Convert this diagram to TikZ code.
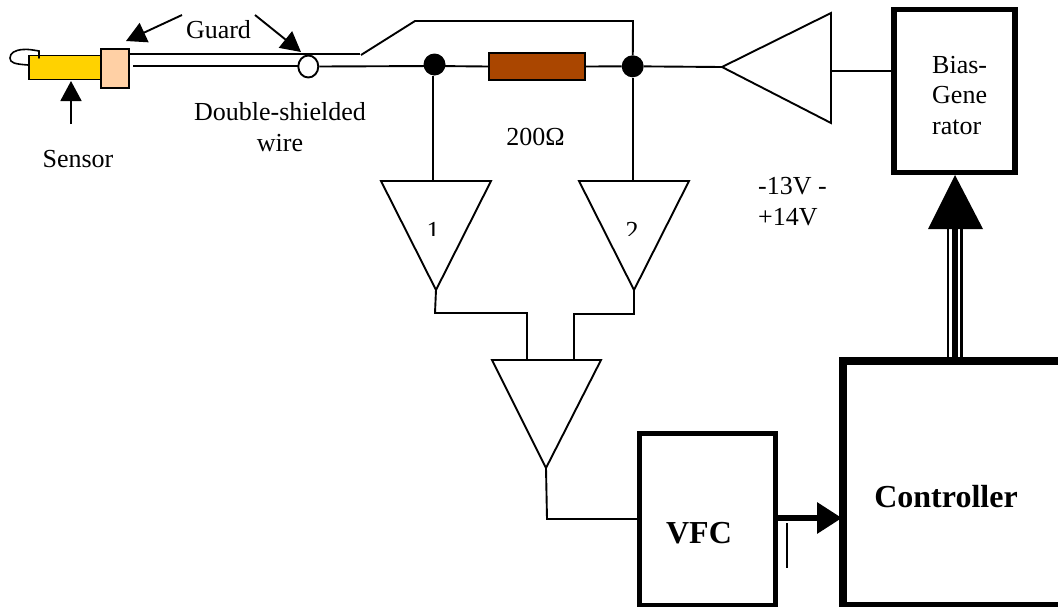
\documentclass[tikz,border=0pt]{standalone}
\usepackage{fontspec}
\setmainfont{Liberation Serif}
\usetikzlibrary{arrows.meta,shapes.geometric}
\tikzset{
  x=1pt,y=-1pt,
  wire/.style={line width=1.9pt,line join=miter},
  amp/.style={wire,fill=white,line join=miter},
  thickbox/.style={draw,line width=5.5pt,fill=white},
  lbl/.style={font=\fontsize{26}{30.5}\selectfont,align=center,inner sep=0pt},
  bold/.style={lbl,font=\fontsize{32}{36}\selectfont\bfseries},
  dot/.style={circle,fill=black,minimum size=22pt,inner sep=0pt},
}
\begin{document}
\begin{tikzpicture}
\useasboundingbox (0,0) rectangle (1058,606);
\coordinate (wt0) at (129,54);
\coordinate (wt1) at (360,54);
\coordinate (wl0) at (133,66);
\coordinate (kink0) at (361,55);
\coordinate (kink1) at (415,21);
\coordinate (kink2) at (633,21);
% sensor
\node[draw,line width=1.9pt,fill={rgb,255:red,255;green,210;blue,0},minimum width=72pt,minimum height=24pt,inner sep=0pt] (sensor) at (65,67.5) {};
\node[draw,line width=1.9pt,fill={rgb,255:red,255;green,208;blue,165},minimum width=28pt,minimum height=39pt,inner sep=0pt] (guard) at (115,68.5) {};
\draw[line width=1.6pt,line cap=round] (39,58) -- (39,51) .. controls (33,50) and (28,49) .. (23,49.5) .. controls (15,50) and (10,53) .. (10,58) .. controls (10,63) and (15,64) .. (28,65);
\draw[wire] (wt0) -- (wt1);
\draw[wire] (wl0) -- (298,66);
\node[draw,line width=1.9pt,fill=white,ellipse,minimum width=20pt,minimum height=22pt,inner sep=0pt] (ring) at (308.3,66.5) {};
\node[draw,line width=1.9pt,fill={rgb,255:red,170;green,70;blue,0},minimum width=96pt,minimum height=27pt,inner sep=0pt] (res) at (537,66.5) {};
\node[dot] (j1) at (434.5,64.5) {};
\node[dot] (j2) at (632.7,66.3) {};
\coordinate (j1w) at (434,66);
\draw[wire] (ring.east) -- (j1w) -- (res.west);
\draw[wire] (res.east) -- (j2);
\draw[wire] (kink0) -- (kink1) -- (kink2) -- (j2);
% amplifiers
\coordinate (a0tip) at (722,67);
\draw[amp] (a0tip) -- (831,13) -- (831,123) -- cycle;
\draw[wire] (j2) -- (a0tip);
\coordinate (a0out) at (831,71);
\coordinate (a1in) at (433,181);
\coordinate (a1tip) at (436,290);
\draw[amp] (381,181) -- (491,181) -- (a1tip) -- cycle;
\coordinate (a2in) at (633,181);
\coordinate (a2tip) at (634,290);
\draw[amp] (579,181) -- (689,181) -- (a2tip) -- cycle;
\coordinate (a3tip) at (546,468);
\draw[amp] (492,360) -- (601,360) -- (a3tip) -- cycle;
\coordinate (a3l) at (527,360);
\coordinate (a3r) at (574,360);
\draw[wire] (j1.south-|a1in) -- (a1in);
\draw[wire] (j2.south-|a2in) -- (a2in);
\draw[wire] (a1tip) -- (435,313) -- (527,313) -- (a3l);
\draw[wire] (a2tip) -- (634,314) -- (574,314) -- (a3r);
\begin{scope}
\clip (420,215) rectangle (645,235.5);
\node[lbl,anchor=base] (n1) at (433,239.5) {1};
\node[lbl,anchor=base] (n2) at (632,239.5) {2};
\end{scope}
% boxes
\node[thickbox,minimum width=121pt,minimum height=163pt,inner sep=0pt] (bias) at (954.5,91) {};
\node[lbl,align=left,anchor=north west] (biast) at (932,56) {Bias-\\Gene\\rator};
\node[thickbox,minimum width=136pt,minimum height=172pt,inner sep=0pt] (vfc) at (707.5,519.5) {};
\node[bold,anchor=base] (vfct) at (699,543) {VFC};
\node[thickbox,minimum width=222pt,minimum height=245pt,inner sep=0pt,line width=8pt] (ctrl) at (954,483.5) {};
\node[bold,anchor=base] (ctrlt) at (946,507) {Controller};
\draw[wire] (a0out) -- (bias.west|-a0out);
\draw[wire] (a3tip) -- (547,519) -- (vfc.west|-0,519);
% arrows
\coordinate (g1) at (182,15);
\coordinate (g1t) at (126,41);
\coordinate (g2) at (255,15);
\coordinate (g2t) at (301,52);
\coordinate (s1) at (71,124);
\coordinate (s1t) at (71,81);
\tikzset{hd/.style={-{Triangle[length=20pt,width=21pt]},line width=1.9pt}}
\draw[hd] (g1) -- (g1t);
\draw[hd] (g2) -- (g2t);
\draw[hd] (s1) -- (s1t);
\draw[-{Triangle[length=25pt,width=30pt]},line width=6.5pt] (vfc.east|-0,518) -- (842,518);
\coordinate (tick0) at (787,523);
\coordinate (tick1) at (787,568);
\draw[wire] (tick0) -- (tick1);
% triple arrow
\fill (928,229) -- (983,229) -- (955,175) -- cycle;
\draw[line width=2pt] (948,229) -- (948,358);
\draw[line width=6pt] (954.5,229) -- (954.5,358);
\draw[line width=2.5pt] (961.5,229) -- (961.5,358);
% text
\node[lbl,anchor=base] (guardt) at (218.5,38) {Guard};
\node[lbl,anchor=north] (dsw) at (280,102.5) {Double-shielded\\wire};
\node[lbl,anchor=base] (st) at (78,167) {Sensor};
\node[lbl,anchor=base] (ohm) at (535.5,145) {200Ω};
\node[lbl,anchor=north west,align=left] (volt) at (758,177.5) {-13V -\\+14V};
\end{tikzpicture}
\end{document}
